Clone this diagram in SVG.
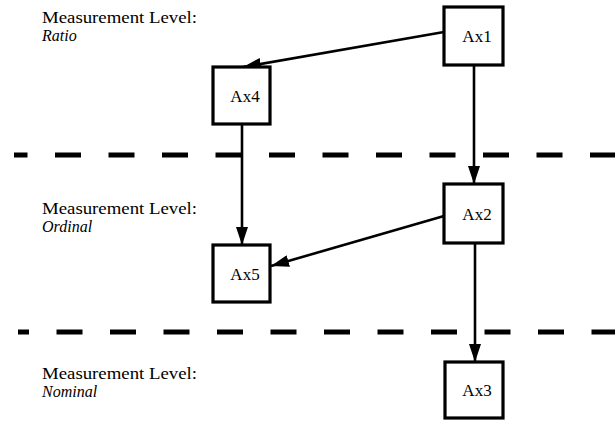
<svg xmlns="http://www.w3.org/2000/svg" width="615" height="421" viewBox="0 0 615 421">
<style>
.box{fill:#fff;stroke:#000;stroke-width:3.2}
.lbl{font-family:"Liberation Serif","Times New Roman",Times,serif;font-size:17px;fill:#000}
.lv{font-family:"Liberation Serif","Times New Roman",Times,serif;font-size:16px;fill:#000}
.it{font-style:italic}
.dash{stroke:#000;stroke-width:5;stroke-dasharray:26 27.5;fill:none}
.edge{stroke:#000;stroke-width:2.6;fill:none;marker-end:url(#ah)}
</style>
<defs>
<marker id="ah" markerUnits="userSpaceOnUse" markerWidth="18" markerHeight="12" refX="18" refY="6" orient="auto">
<path d="M0,0 L18,6 L0,12 Z" fill="#000"/>
</marker>
</defs>
<g id="level-texts">
<text class="lv" x="42" y="23" textLength="155" lengthAdjust="spacingAndGlyphs">Measurement Level:</text>
<text class="lv it" x="42" y="41">Ratio</text>
<text class="lv" x="42" y="214" textLength="155" lengthAdjust="spacingAndGlyphs">Measurement Level:</text>
<text class="lv it" x="42" y="232">Ordinal</text>
<text class="lv" x="42" y="379" textLength="155" lengthAdjust="spacingAndGlyphs">Measurement Level:</text>
<text class="lv it" x="42" y="397">Nominal</text>
</g>
<g id="separators">
<line class="dash" x1="14" y1="155" x2="615" y2="155" stroke-dashoffset="12.5"/>
<line class="dash" x1="18" y1="332" x2="615" y2="332" stroke-dashoffset="15"/>
</g>
<g id="connectors">
<line class="edge" x1="444" y1="32" x2="243" y2="67"/>
<line class="edge" x1="474" y1="65" x2="474" y2="184"/>
<line class="edge" x1="242" y1="124" x2="242" y2="245"/>
<line class="edge" x1="444" y1="216" x2="271" y2="266"/>
<line class="edge" x1="475" y1="243" x2="475" y2="362"/>
</g>
<g id="Ax1"><rect class="box" x="444" y="7" width="59" height="58"/><text class="lbl" x="477" y="42" text-anchor="middle">Ax1</text></g>
<g id="Ax4"><rect class="box" x="213" y="67" width="57" height="57"/><text class="lbl" x="245" y="102" text-anchor="middle">Ax4</text></g>
<g id="Ax2"><rect class="box" x="444" y="184" width="59" height="59"/><text class="lbl" x="477" y="220" text-anchor="middle">Ax2</text></g>
<g id="Ax5"><rect class="box" x="213" y="245" width="57" height="57"/><text class="lbl" x="245" y="280" text-anchor="middle">Ax5</text></g>
<g id="Ax3"><rect class="box" x="445" y="362" width="58" height="56"/><text class="lbl" x="477" y="396" text-anchor="middle">Ax3</text></g>
</svg>
